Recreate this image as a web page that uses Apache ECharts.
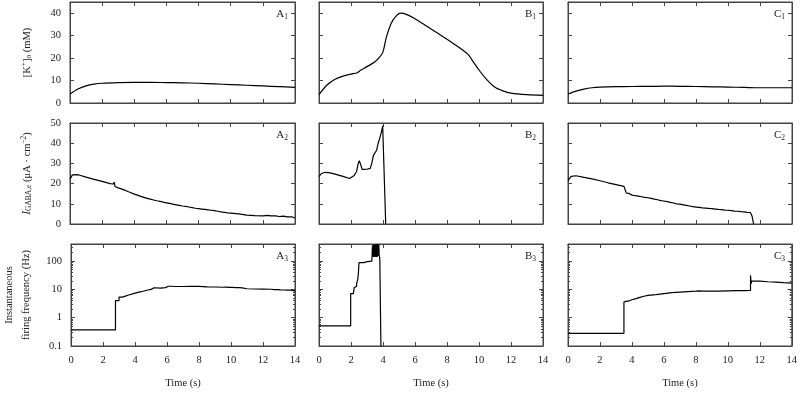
<!DOCTYPE html>
<html><head><meta charset="utf-8">
<script src="https://cdn.jsdelivr.net/npm/echarts@6/dist/echarts.min.js"></script>
<style>html,body{margin:0;padding:0;background:#fff}#c{width:800px;height:394px}</style>
</head><body><div id="c"></div>
<script>
// ---- tick values ----
const timeTicks = [0, 2, 4, 6, 8, 10, 12, 14];
const kTicks = [0, 10, 20, 30, 40];
const gabaTicks = [0, 10, 20, 30, 40, 50];
const freqTicks = [0.1, 1, 10, 100];

// ---- row 1: [K+]o (mM) ----
const kA = [[0,4.0],[0.5,6.2],[1,7.6],[1.5,8.4],[2,8.8],[3,9.1],[4,9.2],[5,9.2],[6,9.1],[7,9.0],[8,8.8],[9,8.5],[10,8.2],[11,7.9],[12,7.6],[13,7.3],[14,7.0]];
const kB = [[0,3.7],[0.5,8.0],[1,10.6],[1.5,12.0],[2,12.9],[2.4,13.5],[2.6,14.6],[3,16.2],[3.5,18.4],[3.8,20.5],[4,22.8],[4.2,29.0],[4.5,35.3],[4.8,38.6],[5.1,40.0],[5.5,39.4],[6,37.5],[6.5,35.3],[7,33.0],[7.5,30.7],[8,28.4],[8.5,26.0],[9,23.5],[9.3,21.8],[9.5,19.9],[10,14.7],[10.5,10.3],[11,7.0],[11.5,5.4],[12,4.4],[13,3.7],[14,3.4]];
const kC = [[0,4.0],[0.5,5.3],[1,6.2],[1.5,6.8],[2,7.1],[3,7.3],[4,7.35],[5,7.4],[6,7.5],[7,7.45],[8,7.35],[9,7.2],[10,7.1],[11,6.95],[12,6.8],[13,6.8],[14,6.8]];

// ---- row 2: I_GABA,e ----
const gA = [[0,22.2],[0.15,24.3],[0.5,24.4],[1,23.2],[1.5,22.1],[2,21.1],[2.5,20.0],[2.7,19.8],[2.75,20.8],[2.8,18.6],[2.9,18.9],[3.0,17.9],[3.1,18.3],[3.2,17.4],[3.3,17.8],[3.4,16.8],[3.5,17.0],[3.6,16.1],[3.7,16.4],[3.8,15.5],[3.9,15.8],[4.0,14.8],[4.1,15.1],[4.2,14.3],[4.3,14.6],[4.4,13.7],[4.5,14.0],[4.6,13.2],[4.7,13.5],[4.8,12.7],[4.9,13.0],[5.0,12.3],[5.1,12.6],[5.2,11.9],[5.3,12.2],[5.4,11.5],[5.5,11.8],[5.6,11.2],[5.7,11.5],[5.8,10.8],[5.9,11.1],[6.0,10.5],[6.1,10.8],[6.2,10.2],[6.3,10.5],[6.4,9.8],[6.5,10.1],[6.6,9.5],[6.7,9.8],[6.8,9.2],[6.9,9.5],[7.0,8.9],[7.1,9.2],[7.2,8.7],[7.3,9.0],[7.4,8.4],[7.5,8.7],[7.6,8.1],[7.7,8.4],[7.8,7.8],[7.9,8.1],[8.0,7.6],[8.1,7.9],[8.2,7.4],[8.3,7.7],[8.4,7.2],[8.5,7.5],[8.6,7.0],[8.7,7.3],[8.8,6.8],[8.9,7.1],[9.0,6.6],[9.1,6.9],[9.2,6.3],[9.3,6.6],[9.4,6.0],[9.5,6.3],[9.6,5.8],[9.7,6.1],[9.8,5.5],[9.9,5.8],[10.0,5.4],[10.5,5.0],[11,4.4],[11.5,4.1],[12,4.0],[12.3,4.3],[12.5,4.0],[12.8,4.0],[13,3.7],[13.3,3.9],[13.5,3.5],[13.8,3.6],[14,3.0]];
const gB = [[0,23.5],[0.15,25.0],[0.4,25.6],[0.7,25.3],[1,24.7],[1.5,23.6],[1.9,22.5],[2.05,23.3],[2.2,24.0],[2.35,26.0],[2.45,30.0],[2.52,31.3],[2.6,29.5],[2.7,27.0],[2.8,26.8],[3.0,27.1],[3.2,27.5],[3.3,30.0],[3.4,34.0],[3.5,34.5],[3.6,36.5],[3.7,40.0],[3.8,42.5],[3.9,45.5],[3.98,48.6],[4.17,0]];
const gC = [[0,21.5],[0.2,23.6],[0.5,23.9],[1,23.1],[1.5,22.3],[2,21.4],[2.5,20.4],[3,19.5],[3.5,18.6],[3.55,19.3],[3.65,15.3],[3.7,16.0],[3.8,15.2],[3.9,15.3],[4.0,14.3],[4.1,14.6],[4.2,14.0],[4.3,14.4],[4.4,13.8],[4.5,14.1],[4.6,13.5],[4.7,13.9],[4.8,13.2],[4.9,13.6],[5.0,13.0],[5.1,13.3],[5.2,12.7],[5.3,13.0],[5.4,12.3],[5.5,12.6],[5.6,12.0],[5.7,12.3],[5.8,11.6],[5.9,12.0],[6.0,11.4],[6.1,11.7],[6.2,11.1],[6.3,11.4],[6.4,10.7],[6.5,11.0],[6.6,10.4],[6.7,10.7],[6.8,10.0],[6.9,10.4],[7.0,9.8],[7.1,10.1],[7.2,9.5],[7.3,9.8],[7.4,9.2],[7.5,9.5],[7.6,8.9],[7.7,9.2],[7.8,8.6],[7.9,8.9],[8.0,8.4],[8.1,8.7],[8.2,8.2],[8.3,8.5],[8.4,8.0],[8.5,8.4],[8.6,7.9],[8.7,8.2],[8.8,7.7],[8.9,8.0],[9.0,7.6],[9.1,7.9],[9.2,7.4],[9.3,7.7],[9.4,7.2],[9.5,7.6],[9.6,7.1],[9.7,7.4],[9.8,6.9],[9.9,7.2],[10.0,6.8],[10.1,7.1],[10.2,6.6],[10.3,6.9],[10.4,6.4],[10.5,6.8],[10.6,6.3],[10.7,6.6],[10.8,6.1],[10.9,6.4],[11.0,6.0],[11.1,6.3],[11.2,5.8],[11.3,6.0],[11.4,5.7],[11.5,4.0],[11.6,0]];

// ---- row 3: instantaneous firing frequency (Hz) ----
const fA = [[0,0.37],[2.78,4.0],[3.0,5.3],[3.2,5.8],[3.4,6.3],[3.6,6.8],[3.8,7.4],[4.0,8.0],[4.25,8.6],[4.5,9.3],[4.75,10.0],[5.0,10.4],[5.1,11.4],[5.2,10.6],[5.3,11.0],[5.6,11.5],[5.9,12.0],[6.0,12.9],[6.1,12.0],[6.2,12.9],[6.3,12.1],[6.4,12.6],[6.5,12.6],[7,12.8],[7.5,12.7],[8,12.3],[8.5,12.1],[9,11.9],[9.5,11.4],[9.6,12.0],[9.7,10.9],[9.8,11.8],[9.9,10.9],[10.0,11.7],[10.1,10.8],[10.2,11.6],[10.3,10.7],[10.4,11.5],[10.5,10.6],[10.6,11.3],[10.7,10.5],[11,10.3],[11.5,10.2],[12,10.1],[12.5,9.8],[12.7,8.8],[12.8,9.8],[12.9,8.7],[13.0,9.6],[13.1,8.8],[13.2,9.5],[13.3,8.7],[13.4,9.4],[13.5,8.8],[13.6,9.4],[13.8,8.6],[14,9.0]];
const fB = [[0,0.51],[1.98,7.1],[2.15,8.0],[2.2,11.5],[2.3,13],[2.35,16],[2.42,22],[2.46,36],[2.5,88],[2.8,95],[3.0,99],[3.3,107],[3.32,170],[3.34,350],[3.36,150],[3.38,370],[3.40,140],[3.42,380],[3.44,150],[3.46,370],[3.48,140],[3.50,380],[3.52,150],[3.54,370],[3.56,140],[3.58,390],[3.60,150],[3.62,380],[3.64,140],[3.66,390],[3.68,150],[3.70,390],[3.72,160],[3.74,380],[3.76,170],[3.78,150],[3.8,122],[3.87,0.1]];
const fC = [[0,0.28],[3.5,3.6],[3.6,3.9],[3.8,4.3],[4,4.7],[4.25,5.2],[4.5,5.7],[4.75,6.1],[5,6.5],[5.5,7.1],[6,7.7],[6.5,8.0],[7,8.3],[7.5,8.6],[8,8.8],[8.2,9.4],[8.3,8.6],[8.4,9.3],[8.5,8.6],[8.6,9.3],[8.7,8.6],[8.8,9.3],[8.9,8.6],[9.0,9.3],[9.1,8.6],[9.2,9.3],[9.3,8.7],[9.4,9.2],[9.5,8.9],[10,9.0],[10.5,9.1],[11,9.2],[11.42,31.6],[11.46,16],[11.5,19.4],[12,18.6],[12.5,18.0],[13,17.2],[13.5,16.6],[14,16.0]];

const panelData = [[kA,kB,kC],[gA,gB,gC],[fA,fB,fC]];

// ---- layout ----
const FONT = 'Liberation Serif';
const colLeft = [70, 319, 568];
const colWidth = [225, 224, 224];
const rowTop = [2, 123, 244];
const rowHeight = [101, 101, 102];
const AX = '#444';

const grid = [], xAxis = [], yAxis = [], series = [], graphic = [];
const letters = ['A','B','C'];

for (let r = 0; r < 3; r++) {
  for (let c = 0; c < 3; c++) {
    const i = r * 3 + c;
    grid.push({left: colLeft[c], top: rowTop[r], width: colWidth[c], height: rowHeight[r],
      show: true, borderColor: AX, borderWidth: 1, containLabel: false});
    const xBase = {type: 'value', gridIndex: i, min: timeTicks[0], max: timeTicks[timeTicks.length-1],
      interval: timeTicks[1] - timeTicks[0],
      axisLine: {show: true, onZero: false, lineStyle: {color: AX, width: 1}},
      axisTick: {show: true, inside: true, length: 4, lineStyle: {color: AX}},
      splitLine: {show: false}};
    xAxis.push(Object.assign({}, xBase, {position: 'bottom',
      axisLabel: {show: r === 2, margin: 9, color: '#222', fontFamily: FONT, fontSize: 10.5},
      name: r === 2 ? 'Time (s)' : '', nameLocation: 'middle', nameGap: 32,
      nameTextStyle: {fontFamily: FONT, fontSize: 10.5, color: '#222'}}));
    xAxis.push(Object.assign({}, xBase, {position: 'top', axisLabel: {show: false}}));

    let yBase;
    if (r < 2) {
      const tk = r === 0 ? kTicks : gabaTicks;
      yBase = {type: 'value', min: tk[0], max: r === 0 ? 45 : tk[tk.length-1], interval: tk[1]-tk[0]};
    } else {
      yBase = {type: 'log', logBase: 10, min: freqTicks[0], max: 400,
        minorTick: {show: true, splitNumber: 9, length: 2, lineStyle: {color: AX}}};
    }
    Object.assign(yBase, {gridIndex: i,
      axisLine: {show: true, onZero: false, lineStyle: {color: AX, width: 1}},
      axisTick: {show: true, inside: true, length: 4, lineStyle: {color: AX}},
      splitLine: {show: false}, minorSplitLine: {show: false}});
    let yName = '';
    let nameStyle = {fontFamily: FONT, fontSize: 10.5, color: '#222'};
    let nameGap = 36;
    if (c === 0) {
      if (r === 0) { yName = '[K{sup|+}]{sub|o} (mM)'; }
      if (r === 1) { yName = '{it|I}{sub|GABA,e} (μA · cm{sup|−2})'; }
      if (r === 2) { yName = 'Instantaneous\nfiring frequency (Hz)'; nameStyle.lineHeight = 17; nameGap = 36; }
      nameStyle.rich = {
        sup: {fontFamily: FONT, fontSize: 7.5, padding: [0,0,6,0], color: '#222'},
        sub: {fontFamily: FONT, fontSize: 7.5, padding: [5,0,0,0], color: '#222'},
        it: {fontFamily: FONT, fontSize: 11.5, fontStyle: 'italic', color: '#222'}
      };
    }
    yAxis.push(Object.assign({}, yBase, {position: 'left',
      axisLabel: {show: c === 0, margin: 9, color: '#222', fontFamily: FONT, fontSize: 10.5,
        showMaxLabel: r === 1, formatter: v => String(v)},
      name: yName, nameLocation: 'middle', nameRotate: 90, nameGap: nameGap, nameTextStyle: nameStyle}));
    yAxis.push(Object.assign({}, yBase, {position: 'right', axisLabel: {show: false}}));

    series.push({type: 'line', xAxisIndex: 2*i, yAxisIndex: 2*i, data: panelData[r][c],
      showSymbol: false, symbol: 'none', animation: false, clip: true,
      smooth: r === 0 ? 0.3 : false, step: r === 2 ? 'end' : false,
      lineStyle: {color: '#000', width: 1.2}});

    graphic.push({type: 'text', right: 800 - (colLeft[c] + colWidth[c]) + 7, top: rowTop[r] + 7,
      style: {text: letters[c] + '{s|' + (r+1) + '}', fill: '#222', font: '11px "' + FONT + '"',
        rich: {s: {fontFamily: FONT, fontSize: 7.5, padding: [5,0,0,0], fill: '#222'}}}});
  }
}

const chart = echarts.init(document.getElementById('c'), null, {renderer: 'canvas'});
chart.setOption({animation: false, backgroundColor: '#fff', grid, xAxis, yAxis, series, graphic});
</script></body></html>
